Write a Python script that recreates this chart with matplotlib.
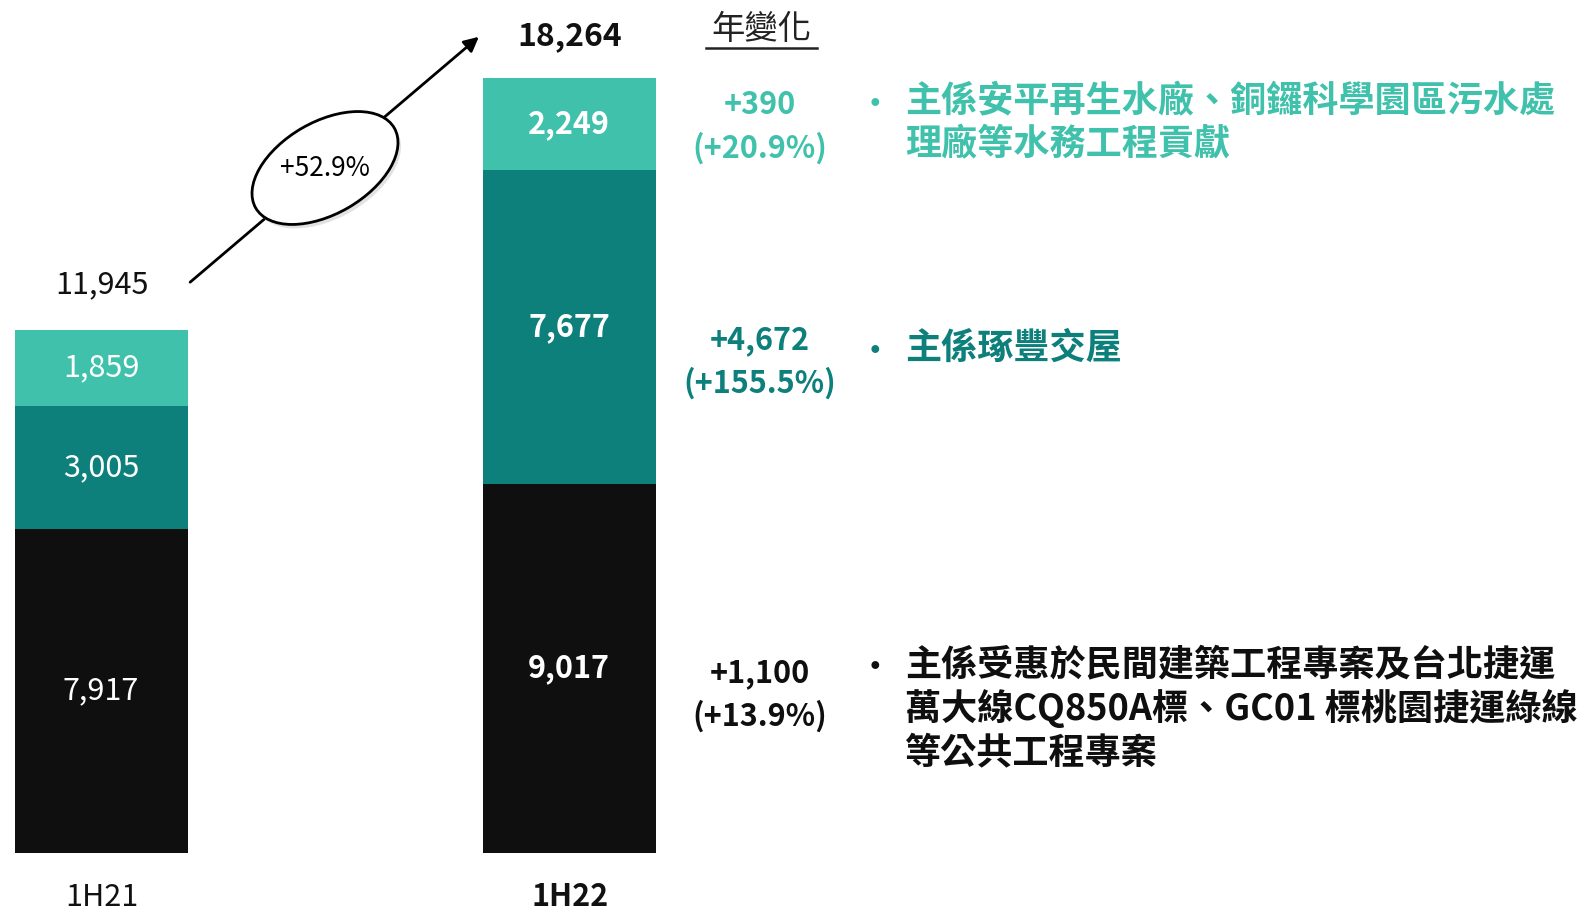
import matplotlib
matplotlib.use("Agg")
import matplotlib.pyplot as plt
from matplotlib.patches import Ellipse

plt.rcParams['font.family'] = ['Noto Sans CJK TC', 'DejaVu Sans']

periods = ['1H21', '1H22']
segments = ['other', 'dark', 'light']
seg_values = {
    'other': [7917, 9017],
    'dark': [3005, 7677],
    'light': [1859, 2249],
}
totals_shown = ['11,945', '18,264']
growth = '+52.9%'
changes = ['+1,100\n(+13.9%)', '+4,672\n(+155.5%)', '+390\n(+20.9%)']
notes = [
    '主係受惠於民間建築工程專案及台北捷運\n萬大線CQ850A標、GC01 標桃園捷運綠線\n等公共工程專案',
    '主係琢豐交屋',
    '主係安平再生水廠、銅鑼科學園區污水處\n理廠等水務工程貢獻',
]

colors = {'other': '#0f0f0f', 'dark': '#0d807b', 'light': '#40c1ab'}

W, H = 1581, 917
fig = plt.figure(figsize=(W / 100, H / 100), dpi=100)

# bar axes: x in pixels, y in data units (baseline at y pixel 853)
scale = 775 / 18943.0
ax = fig.add_axes([0, 0, 1, 1])
ax.set_xlim(0, W)
ax.set_ylim(-(H - 853) / scale, 853 / scale)
ax.axis('off')

xpos = [101, 569]
bottom = [0, 0]
for seg in segments:
    vals = seg_values[seg]
    bars = ax.bar(xpos, vals, width=173, bottom=bottom, color=colors[seg])
    for i, (b, v) in enumerate(zip(bars, vals)):
        cy = b.get_y() + b.get_height() / 2
        ax.text(b.get_x() + b.get_width() / 2, cy, f'{v:,}', color='white',
                fontsize=22, ha='center', va='center',
                fontweight='bold' if i == 1 else 'normal')
    bottom = [b0 + v for b0, v in zip(bottom, vals)]

# overlay axes in pixel coordinates for annotations
ov = fig.add_axes([0, 0, 1, 1])
ov.set_xlim(0, W)
ov.set_ylim(H, 0)
ov.axis('off')
ov.patch.set_alpha(0)

ov.text(102, 285, totals_shown[0], fontsize=22, ha='center', va='center',
        color='#111111')
ov.text(570, 36, totals_shown[1], fontsize=23, ha='center', va='center',
        fontweight='bold', color='#111111')

ov.annotate('', xy=(481, 35), xytext=(188, 284),
            arrowprops=dict(arrowstyle='-|>', color='black', lw=2,
                            mutation_scale=22))
ov.add_patch(Ellipse((328, 172), 160, 92, angle=-30, facecolor='#d0d0d0',
                     edgecolor='none', alpha=0.6, zorder=3))
ov.add_patch(Ellipse((325, 168), 160, 92, angle=-30, facecolor='white',
                     edgecolor='black', lw=2, zorder=4))
ov.text(325, 168, growth, fontsize=19, ha='center', va='center', zorder=5)

ov.text(761, 30, '年變化', fontsize=24, ha='center', va='center', color='#222222')
ov.plot([706, 817], [48, 48], color='#222222', lw=1.8)

change_y = [695, 362, 127]
note_y = [668, 352, 105]
for seg, ch, nt, cy, ny in zip(segments, changes, notes, change_y, note_y):
    c = colors[seg]
    ov.text(760, cy, ch, fontsize=22, ha='center', va='center',
            fontweight='bold', color=c, linespacing=1.45)
    ov.text(875, ny, '•', fontsize=22, ha='center', va='center', color=c,
            fontweight='bold')
    ov.text(905, ny - 22, nt, fontsize=26, ha='left', va='top', color=c,
            fontweight='bold', linespacing=1.2)

ov.text(102, 897, periods[0], fontsize=22, ha='center', va='center',
        color='#111111')
ov.text(570, 897, periods[1], fontsize=22, ha='center', va='center',
        fontweight='bold', color='#111111')

fig.savefig('out.png', dpi=100)
